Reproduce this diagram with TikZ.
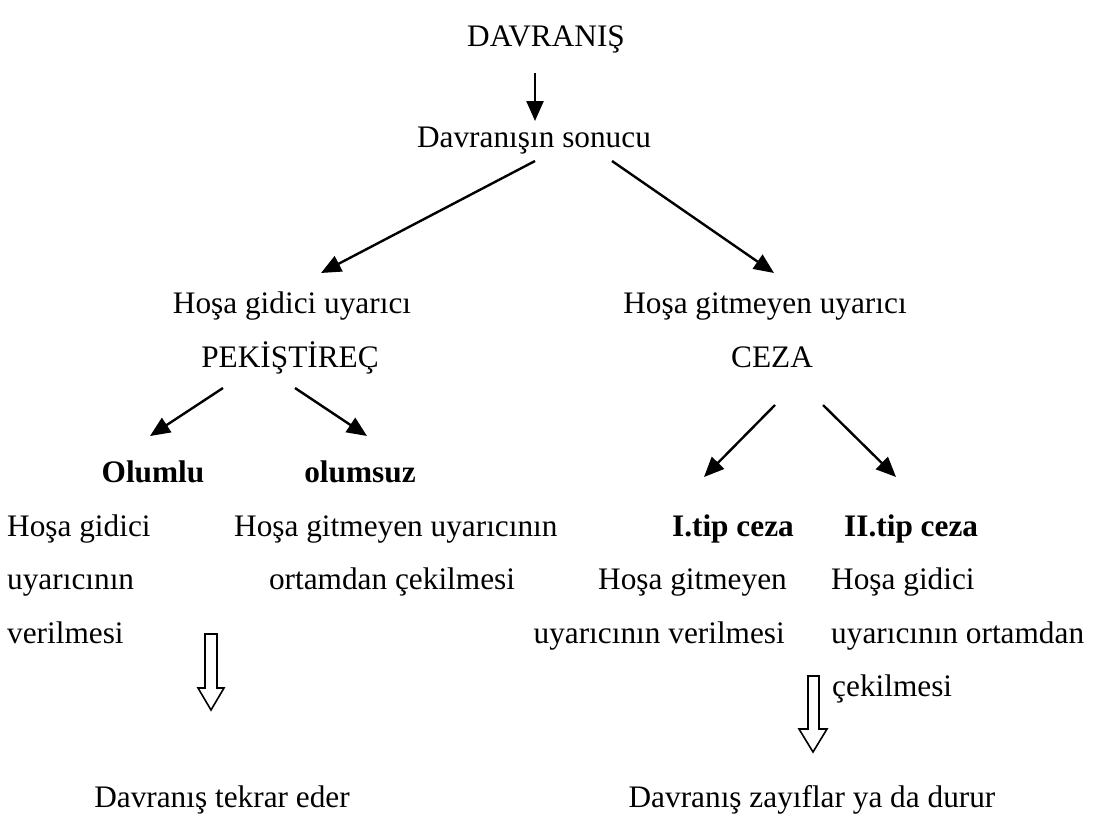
\documentclass[tikz,border=0pt]{standalone}
\usepackage{fontspec}
\setmainfont{Liberation Serif}
\usetikzlibrary{arrows.meta}
\begin{document}
\begin{tikzpicture}[x=1pt,y=-1pt,
  txt/.style={inner sep=0pt,font=\fontsize{31.3}{36}\selectfont},
  btxt/.style={txt,font=\fontsize{31.3}{36}\selectfont\bfseries},
  arr/.style={line width=2.4pt,-{Triangle[length=20pt,width=17pt]}},
  hollow/.style={draw=black,line width=1.6pt,fill=white}]
\useasboundingbox (0,0) rectangle (1093,819);
% top
\node[txt,anchor=base] (dav) at (546,46) {DAVRANIŞ};
\node[txt,anchor=base] (son) at (534,147) {Davranışın sonucu};
\coordinate (a0s) at (535,73);
\coordinate (a0e) at (535,121);
\draw[arr] (a0s) -- (a0e);
% level 2
\node[txt,anchor=base] (hg) at (292,313) {Hoşa gidici uyarıcı};
\node[txt,anchor=base] (pek) at (290,367) {PEKİŞTİREÇ};
\node[txt,anchor=base] (hgm) at (765,313) {Hoşa gitmeyen uyarıcı};
\node[txt,anchor=base] (ceza) at (772,367) {CEZA};
\coordinate (l1s) at (535,161);
\coordinate (l1e) at (321,273);
\coordinate (r1s) at (612,161);
\coordinate (r1e) at (774,273);
\draw[arr] (l1s) -- (l1e);
\draw[arr] (r1s) -- (r1e);
% left branch
\coordinate (l2s) at (223,388);
\coordinate (l2e) at (150,436);
\coordinate (l3s) at (295,388);
\coordinate (l3e) at (367,436);
\draw[arr] (l2s) -- (l2e);
\draw[arr] (l3s) -- (l3e);
\node[btxt,anchor=base] (olumlu) at (153,482) {Olumlu};
\node[btxt,anchor=base] (olumsuz) at (360,482) {olumsuz};
\node[txt,anchor=base west] (la) at (7,536) {Hoşa gidici};
\node[txt,anchor=base west] (lb) at (7,589) {uyarıcının};
\node[txt,anchor=base west] (lc) at (7,643) {verilmesi};
\node[txt,anchor=base west] (ma) at (234,536) {Hoşa gitmeyen uyarıcının};
\node[txt,anchor=base] (mb) at (392,589) {ortamdan çekilmesi};
% right branch
\coordinate (r2s) at (775,405);
\coordinate (r2e) at (704,477);
\coordinate (r3s) at (823,405);
\coordinate (r3e) at (896,477);
\draw[arr] (r2s) -- (r2e);
\draw[arr] (r3s) -- (r3e);
\node[btxt,anchor=base east] (tip1) at (794,536) {I.tip ceza};
\node[btxt,anchor=base west] (tip2) at (844,536) {II.tip ceza};
\node[txt,anchor=base east] (ra) at (787,589) {Hoşa gitmeyen};
\node[txt,anchor=base east] (rb) at (785,643) {uyarıcının verilmesi};
\node[txt,anchor=base west] (sa) at (831,589) {Hoşa gidici};
\node[txt,anchor=base west] (sb) at (831,643) {uyarıcının ortamdan};
\node[txt,anchor=base west] (sc) at (832,696) {çekilmesi};
% hollow arrows
\draw[hollow] (205,634) -- (217,634) -- (217,688) -- (224,688) -- (211,710) -- (198,688) -- (205,688) -- cycle;
\draw[hollow] (808,676) -- (819,676) -- (819,729) -- (827,729) -- (813,752) -- (799,729) -- (808,729) -- cycle;
% bottom
\node[txt,anchor=base] (res1) at (222,807) {Davranış tekrar eder};
\node[txt,anchor=base] (res2) at (812,807) {Davranış zayıflar ya da durur};
\end{tikzpicture}
\end{document}
